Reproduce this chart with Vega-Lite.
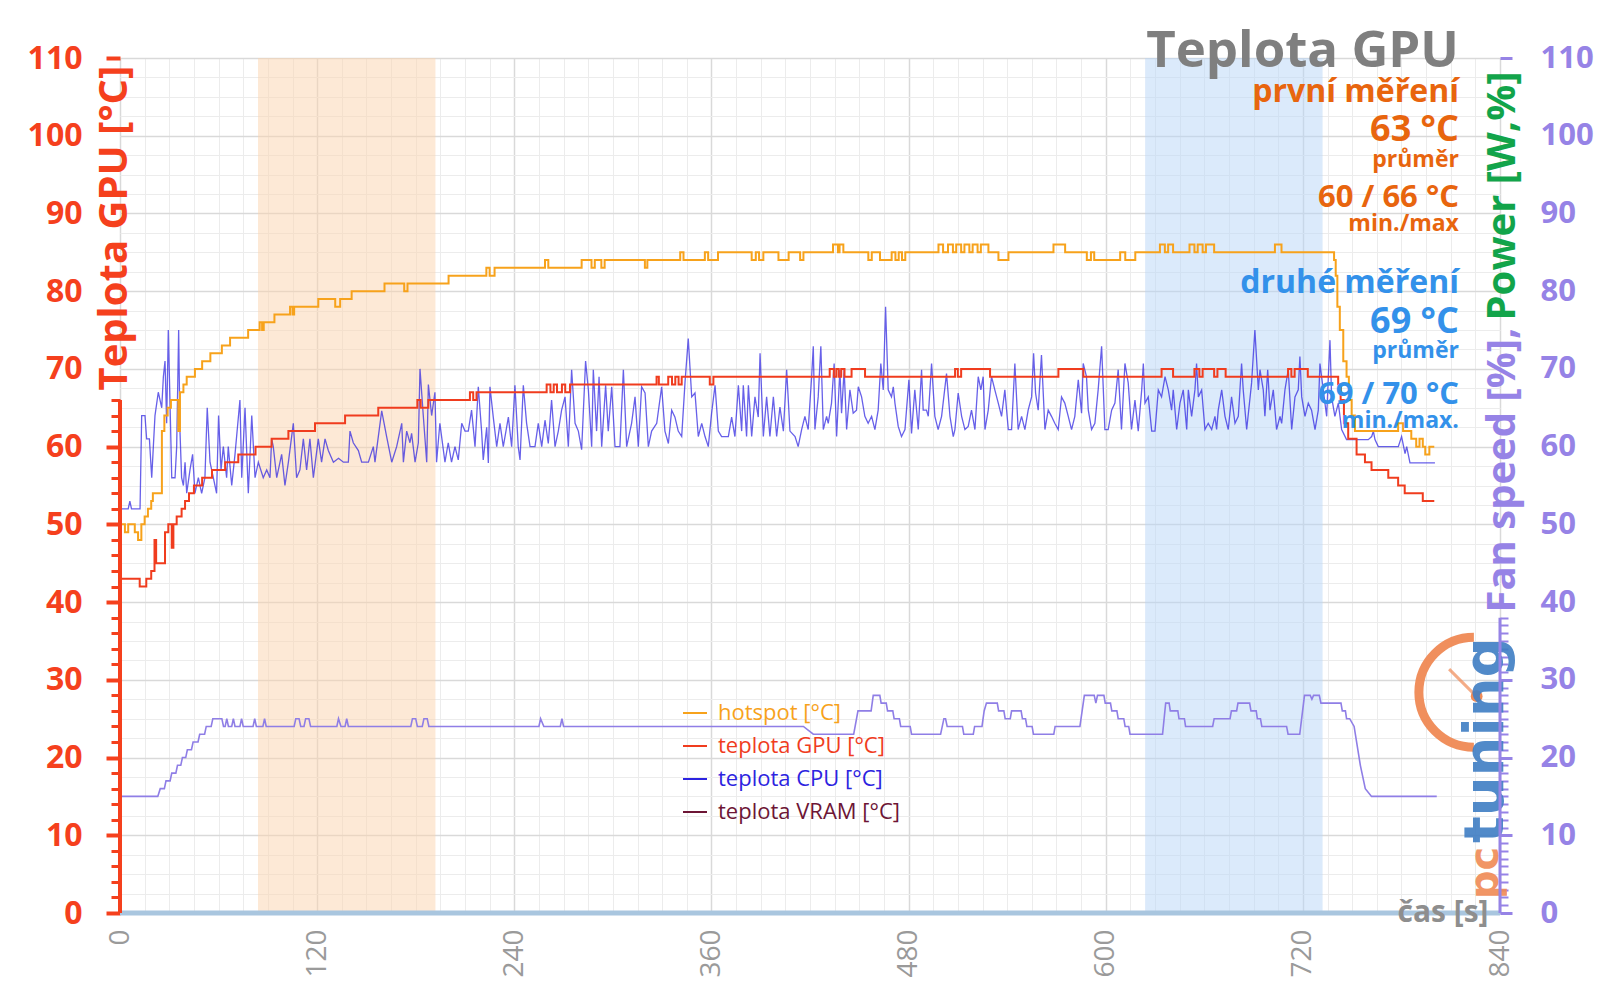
{
"$schema": "https://vega.github.io/schema/vega-lite/v6.json",
"width": 1380,
"height": 855,
"autosize": {"type": "none"},
"padding": {"left": 120, "top": 58, "right": 100, "bottom": 95},
"background": "white",
"config": {"font": "Open Sans", "view": {"stroke": null}, "axis": {"labelFont": "Open Sans", "titleFont": "Open Sans"}, "legend": {"labelFont": "Open Sans"}},
"datasets": {
"hot": [{"t":0,"v":50},{"t":3,"v":49},{"t":5,"v":50},{"t":9,"v":49},{"t":11,"v":48},{"t":13,"v":50},{"t":15,"v":51},{"t":17,"v":52},{"t":19,"v":53},{"t":20,"v":54},{"t":25.5,"v":62},{"t":27,"v":64},{"t":29,"v":65},{"t":31,"v":66},{"t":35.5,"v":62},{"t":36.5,"v":67},{"t":38.6,"v":68},{"t":40.6,"v":69},{"t":45.6,"v":70},{"t":50,"v":71},{"t":55,"v":72},{"t":62,"v":73},{"t":67,"v":74},{"t":78,"v":75},{"t":85,"v":76},{"t":86.5,"v":75},{"t":87.5,"v":76},{"t":94,"v":77},{"t":103.5,"v":78},{"t":105,"v":77},{"t":106,"v":78},{"t":120.7,"v":79},{"t":131,"v":78},{"t":134,"v":79},{"t":141,"v":80},{"t":161,"v":81},{"t":173,"v":80},{"t":175,"v":81},{"t":200,"v":82},{"t":223,"v":83},{"t":225,"v":82},{"t":228,"v":83},{"t":258.7,"v":84},{"t":260.7,"v":83},{"t":281,"v":84},{"t":287,"v":83},{"t":289,"v":84},{"t":293,"v":83},{"t":295,"v":84},{"t":319.5,"v":83},{"t":321,"v":84},{"t":341,"v":85},{"t":343,"v":84},{"t":356,"v":85},{"t":358,"v":84},{"t":364,"v":85},{"t":384.5,"v":84},{"t":387,"v":85},{"t":389,"v":84},{"t":391.6,"v":85},{"t":400.8,"v":84},{"t":407,"v":85},{"t":414,"v":84},{"t":416,"v":85},{"t":434,"v":86},{"t":437,"v":85},{"t":438,"v":86},{"t":440.3,"v":85},{"t":455.5,"v":84},{"t":457.6,"v":85},{"t":462.6,"v":84},{"t":469.7,"v":85},{"t":472,"v":84},{"t":474,"v":85},{"t":476,"v":84},{"t":478,"v":85},{"t":498.2,"v":86},{"t":501,"v":85},{"t":504,"v":86},{"t":507,"v":85},{"t":509,"v":86},{"t":512,"v":85},{"t":514,"v":86},{"t":517,"v":85},{"t":519,"v":86},{"t":522,"v":85},{"t":524,"v":86},{"t":528.6,"v":85},{"t":534.7,"v":84},{"t":540.8,"v":85},{"t":568.2,"v":86},{"t":575.3,"v":85},{"t":588.5,"v":84},{"t":591,"v":85},{"t":593,"v":84},{"t":608.8,"v":85},{"t":611.9,"v":84},{"t":618,"v":85},{"t":633,"v":86},{"t":636,"v":85},{"t":638,"v":86},{"t":641,"v":85},{"t":651,"v":86},{"t":654,"v":85},{"t":656,"v":86},{"t":659,"v":85},{"t":661,"v":86},{"t":666,"v":85},{"t":703,"v":86},{"t":707,"v":85},{"t":739,"v":84},{"t":740,"v":82},{"t":741,"v":78},{"t":742.5,"v":75},{"t":744.6,"v":71},{"t":746.6,"v":69},{"t":748,"v":66},{"t":749.7,"v":64},{"t":751.7,"v":62},{"t":778,"v":63},{"t":781,"v":62},{"t":786,"v":61},{"t":789,"v":60},{"t":791,"v":61},{"t":793,"v":60},{"t":794.5,"v":59},{"t":797,"v":60},{"t":800,"v":60}],
"gpu": [{"t":0,"v":43},{"t":12,"v":42},{"t":16,"v":43},{"t":19,"v":44},{"t":21,"v":48},{"t":22,"v":45},{"t":27.4,"v":49},{"t":29.4,"v":50},{"t":31.5,"v":47},{"t":32.5,"v":50},{"t":34.5,"v":51},{"t":37.5,"v":52},{"t":39.6,"v":53},{"t":42,"v":54},{"t":45,"v":55},{"t":50,"v":56},{"t":56,"v":57},{"t":64,"v":58},{"t":72,"v":59},{"t":82.5,"v":60},{"t":92.3,"v":61},{"t":102.5,"v":62},{"t":118.7,"v":63},{"t":137,"v":64},{"t":157.2,"v":65},{"t":181,"v":66},{"t":183,"v":65},{"t":187.7,"v":66},{"t":213,"v":67},{"t":215,"v":66},{"t":217,"v":67},{"t":259.7,"v":68},{"t":262,"v":67},{"t":264,"v":68},{"t":266,"v":67},{"t":269,"v":68},{"t":271,"v":67},{"t":273.9,"v":68},{"t":326.6,"v":69},{"t":328,"v":68},{"t":333.7,"v":69},{"t":336,"v":68},{"t":338,"v":69},{"t":340,"v":68},{"t":341.9,"v":69},{"t":359,"v":68},{"t":361.2,"v":69},{"t":432,"v":70},{"t":434.5,"v":69},{"t":436,"v":70},{"t":437.5,"v":69},{"t":439,"v":70},{"t":441,"v":69},{"t":445.3,"v":70},{"t":453.5,"v":69},{"t":508.3,"v":70},{"t":510,"v":69},{"t":512,"v":70},{"t":529.6,"v":69},{"t":571.2,"v":70},{"t":586.4,"v":69},{"t":634,"v":70},{"t":641,"v":69},{"t":654,"v":70},{"t":657,"v":69},{"t":659,"v":70},{"t":666,"v":69},{"t":668,"v":70},{"t":673,"v":69},{"t":711,"v":70},{"t":713,"v":69},{"t":715,"v":70},{"t":723,"v":69},{"t":741.5,"v":68},{"t":743,"v":66},{"t":745,"v":63},{"t":747.6,"v":61},{"t":752.7,"v":59},{"t":757.8,"v":58},{"t":761.8,"v":57},{"t":772,"v":56},{"t":778,"v":55},{"t":782,"v":54},{"t":793,"v":53},{"t":800,"v":53}],
"cpu": [{"t":0,"v":52},{"t":5,"v":52},{"t":6,"v":53},{"t":7,"v":52},{"t":12.2,"v":52},{"t":13.2,"v":64},{"t":15.2,"v":64},{"t":16.2,"v":61},{"t":17.9,"v":61},{"t":19.3,"v":56},{"t":20.3,"v":60},{"t":21.3,"v":64},{"t":23.3,"v":67},{"t":25.4,"v":65},{"t":26.4,"v":69},{"t":27.4,"v":71},{"t":28.4,"v":63},{"t":29.4,"v":75},{"t":30.4,"v":66},{"t":31.5,"v":56},{"t":33.5,"v":56},{"t":34.5,"v":60},{"t":35.7,"v":75},{"t":36.5,"v":62},{"t":37.5,"v":56},{"t":38.6,"v":55},{"t":39.6,"v":58},{"t":40.6,"v":54},{"t":42.6,"v":57},{"t":44.2,"v":59},{"t":45.6,"v":54},{"t":47.7,"v":56},{"t":49.7,"v":54},{"t":51.7,"v":56},{"t":53.1,"v":65},{"t":54.8,"v":58},{"t":56.8,"v":56},{"t":58.8,"v":54},{"t":60,"v":64},{"t":61.5,"v":57},{"t":62.9,"v":60},{"t":64.9,"v":56},{"t":65.9,"v":60},{"t":68,"v":55},{"t":70,"v":59},{"t":73,"v":66},{"t":74.1,"v":56},{"t":76.1,"v":65},{"t":78.1,"v":54},{"t":80.2,"v":64},{"t":82.2,"v":56},{"t":84.2,"v":58},{"t":87.2,"v":56},{"t":89.3,"v":57},{"t":91.3,"v":56},{"t":92.3,"v":61},{"t":93.3,"v":60},{"t":95.4,"v":56},{"t":98.4,"v":59},{"t":100.4,"v":55},{"t":102.5,"v":58},{"t":105.5,"v":63},{"t":107.5,"v":56},{"t":109.5,"v":57},{"t":111.6,"v":61},{"t":113.6,"v":57},{"t":115.6,"v":61},{"t":117.7,"v":56},{"t":120.7,"v":61},{"t":122.7,"v":58},{"t":124.8,"v":61},{"t":126.8,"v":59.5},{"t":129.9,"v":58},{"t":133,"v":58.5},{"t":136,"v":58},{"t":139,"v":58},{"t":140,"v":62},{"t":142,"v":60.5},{"t":145.1,"v":59.5},{"t":147.1,"v":58},{"t":151.2,"v":58},{"t":154.2,"v":60},{"t":155.2,"v":58},{"t":159.3,"v":64.6},{"t":162.3,"v":61.3},{"t":165.4,"v":58},{"t":168.4,"v":60},{"t":171.5,"v":63},{"t":172.5,"v":58},{"t":174.5,"v":62},{"t":176.5,"v":60.5},{"t":177.5,"v":61.7},{"t":179.6,"v":58},{"t":181.6,"v":60.5},{"t":182.6,"v":70},{"t":184.6,"v":64},{"t":186.7,"v":58},{"t":187.7,"v":68},{"t":189.7,"v":64},{"t":191.7,"v":67},{"t":192.7,"v":58},{"t":194.7,"v":63},{"t":197.8,"v":58},{"t":199.8,"v":60.5},{"t":201.8,"v":58},{"t":203.9,"v":60},{"t":205.9,"v":58.3},{"t":208,"v":63},{"t":210,"v":62},{"t":212,"v":62},{"t":214,"v":64.7},{"t":216.1,"v":60},{"t":218.1,"v":67.7},{"t":220.1,"v":62},{"t":221.1,"v":58.3},{"t":223.2,"v":62.5},{"t":224.2,"v":57.9},{"t":225.2,"v":67.7},{"t":227.2,"v":63.8},{"t":229.3,"v":60},{"t":231.3,"v":63},{"t":233.3,"v":60},{"t":236.4,"v":63.8},{"t":238.4,"v":60},{"t":240.4,"v":67.9},{"t":242.4,"v":60},{"t":243.5,"v":58.3},{"t":245.5,"v":67.9},{"t":247.5,"v":63},{"t":249.6,"v":60},{"t":252.6,"v":60},{"t":254.6,"v":63},{"t":256.7,"v":60},{"t":258.7,"v":63.4},{"t":260.7,"v":60.4},{"t":262.7,"v":66},{"t":264.8,"v":60},{"t":266.8,"v":62},{"t":268.8,"v":64.7},{"t":270.9,"v":66.4},{"t":272.9,"v":60},{"t":274.9,"v":69.9},{"t":277,"v":63},{"t":279,"v":62},{"t":281,"v":59.6},{"t":283.4,"v":71},{"t":285.1,"v":67.3},{"t":287.1,"v":60},{"t":288.1,"v":69.9},{"t":290.1,"v":62},{"t":291.6,"v":69},{"t":293.2,"v":60},{"t":295.6,"v":67.9},{"t":297.2,"v":62},{"t":299.3,"v":67.7},{"t":301.3,"v":60},{"t":304.3,"v":60},{"t":306.4,"v":69.9},{"t":308.4,"v":60},{"t":311.4,"v":63},{"t":313.5,"v":66.4},{"t":315.5,"v":60},{"t":317.5,"v":67.7},{"t":319.6,"v":66.9},{"t":321.6,"v":60},{"t":323.6,"v":62},{"t":326.7,"v":63},{"t":329.7,"v":67.7},{"t":331.7,"v":62},{"t":333.8,"v":60.4},{"t":335.8,"v":64.7},{"t":337.8,"v":63.8},{"t":339.8,"v":62},{"t":341.9,"v":61.3},{"t":343.9,"v":68.2},{"t":345.9,"v":73.9},{"t":348,"v":66.4},{"t":350,"v":66.9},{"t":352,"v":61.3},{"t":354.1,"v":63},{"t":356.1,"v":61.3},{"t":358.1,"v":60},{"t":360.1,"v":64.3},{"t":362.2,"v":67.9},{"t":364.2,"v":62},{"t":366.2,"v":61.3},{"t":370.3,"v":61.3},{"t":372.3,"v":63.8},{"t":374.3,"v":61.3},{"t":376.4,"v":67.9},{"t":378.4,"v":62},{"t":379.4,"v":67.9},{"t":381.4,"v":61.3},{"t":382.5,"v":67.9},{"t":384.5,"v":61.3},{"t":386.5,"v":66.4},{"t":388.5,"v":63.8},{"t":389.6,"v":72},{"t":391.6,"v":61.3},{"t":393.6,"v":66.4},{"t":395.6,"v":61.3},{"t":397.7,"v":66.4},{"t":399.7,"v":61.3},{"t":401.7,"v":65.1},{"t":403.8,"v":62},{"t":405.8,"v":69.9},{"t":407.8,"v":62},{"t":410.9,"v":61.3},{"t":412.8,"v":60},{"t":414.9,"v":62.2},{"t":416.9,"v":63.9},{"t":418.9,"v":62.2},{"t":421,"v":69},{"t":422,"v":72.9},{"t":423,"v":62.2},{"t":425,"v":66.4},{"t":426.6,"v":72.9},{"t":428.1,"v":62.2},{"t":430.1,"v":63.9},{"t":431.1,"v":63},{"t":433.1,"v":65.6},{"t":434.7,"v":70.7},{"t":436.2,"v":61.3},{"t":438.2,"v":69.9},{"t":439.2,"v":64.3},{"t":440.8,"v":69.9},{"t":442.3,"v":62.2},{"t":444.3,"v":67.3},{"t":446.3,"v":64.3},{"t":448.3,"v":64.7},{"t":449.4,"v":67.7},{"t":451.4,"v":66.4},{"t":453.4,"v":63.9},{"t":455.4,"v":63},{"t":457.5,"v":63.9},{"t":459.5,"v":62.2},{"t":461.5,"v":64.7},{"t":463.1,"v":70.7},{"t":464.6,"v":67.3},{"t":466,"v":78},{"t":467.6,"v":67.3},{"t":469.6,"v":66.4},{"t":470.7,"v":67.7},{"t":471.7,"v":65.6},{"t":473.7,"v":62.6},{"t":475.7,"v":61.3},{"t":477.8,"v":62.2},{"t":480.2,"v":68.6},{"t":481.8,"v":61.7},{"t":483.8,"v":67.3},{"t":485.9,"v":62.2},{"t":487.9,"v":69.9},{"t":488.9,"v":64.7},{"t":490.9,"v":64.7},{"t":492,"v":63.9},{"t":494,"v":70.7},{"t":496,"v":63.9},{"t":498,"v":62.2},{"t":500.1,"v":63.9},{"t":503.1,"v":69.4},{"t":505.2,"v":63.9},{"t":507.2,"v":61.3},{"t":508.2,"v":62.2},{"t":510.2,"v":66.9},{"t":512.3,"v":63.9},{"t":514.3,"v":62.2},{"t":516.3,"v":62.6},{"t":518.3,"v":64.7},{"t":520.4,"v":62.2},{"t":522.4,"v":69},{"t":524,"v":67.3},{"t":525.4,"v":69},{"t":526.5,"v":62.2},{"t":528.5,"v":64.7},{"t":530.5,"v":69},{"t":532.5,"v":67.3},{"t":534.6,"v":65.6},{"t":536.6,"v":63.9},{"t":538.6,"v":67.3},{"t":540.7,"v":62.2},{"t":542.7,"v":62.2},{"t":544.7,"v":70.7},{"t":546.7,"v":62.2},{"t":548.8,"v":63.9},{"t":550.8,"v":62.2},{"t":552.8,"v":64.7},{"t":554.9,"v":66.4},{"t":556.1,"v":72},{"t":557.3,"v":66.9},{"t":558.9,"v":64.7},{"t":560.9,"v":71.8},{"t":563,"v":62.2},{"t":565,"v":64.7},{"t":567,"v":63.9},{"t":569,"v":63},{"t":571.1,"v":62.2},{"t":573.1,"v":66.4},{"t":575.1,"v":65.6},{"t":577.2,"v":63.9},{"t":579.2,"v":62.2},{"t":581.2,"v":63.9},{"t":583.3,"v":68.6},{"t":585.3,"v":64.3},{"t":586.3,"v":70.7},{"t":588.3,"v":69},{"t":589.4,"v":64.7},{"t":591.4,"v":62.2},{"t":593.4,"v":63},{"t":595.4,"v":67.3},{"t":597.5,"v":72.9},{"t":599.5,"v":62.2},{"t":601.5,"v":62.2},{"t":603.6,"v":64.7},{"t":605.6,"v":65.6},{"t":607.6,"v":69.9},{"t":609.6,"v":62.2},{"t":611.7,"v":70.7},{"t":613.7,"v":68.2},{"t":615.7,"v":62.2},{"t":617.8,"v":66},{"t":619.8,"v":62},{"t":621.9,"v":67.3},{"t":622.9,"v":70.7},{"t":623.9,"v":65.6},{"t":625.9,"v":66.4},{"t":628,"v":62},{"t":630,"v":62},{"t":632,"v":67.3},{"t":634,"v":66.4},{"t":636.1,"v":69},{"t":638.1,"v":67.3},{"t":640.1,"v":64.7},{"t":641.1,"v":67.3},{"t":643.2,"v":62.2},{"t":645.2,"v":65.6},{"t":647.2,"v":67.3},{"t":649.3,"v":62.2},{"t":650.3,"v":67.3},{"t":652.3,"v":63.9},{"t":654.3,"v":67.3},{"t":655.3,"v":70.7},{"t":656.4,"v":66.4},{"t":658.4,"v":67.3},{"t":660.4,"v":62.2},{"t":662.4,"v":63},{"t":664.5,"v":62.2},{"t":666.5,"v":63.9},{"t":667.5,"v":62.2},{"t":668.5,"v":64.7},{"t":670.6,"v":67.3},{"t":672.6,"v":63.9},{"t":674.6,"v":62.2},{"t":676.6,"v":66.4},{"t":678.7,"v":63},{"t":680.7,"v":63.9},{"t":682.7,"v":70.7},{"t":683.7,"v":67.3},{"t":685.8,"v":62.2},{"t":688.8,"v":68.2},{"t":690.8,"v":75},{"t":692.9,"v":67.3},{"t":693.9,"v":69.9},{"t":695.9,"v":67.3},{"t":696.9,"v":63.9},{"t":698.6,"v":69.9},{"t":700,"v":64.7},{"t":702,"v":67.3},{"t":704,"v":62.2},{"t":706.1,"v":63.9},{"t":707.1,"v":63},{"t":709.1,"v":67.3},{"t":711.1,"v":69.9},{"t":713.2,"v":62.2},{"t":715.2,"v":66.4},{"t":717.2,"v":67.3},{"t":718.2,"v":71.6},{"t":719.3,"v":66.4},{"t":721.3,"v":63.9},{"t":723.3,"v":65.6},{"t":725.3,"v":64.7},{"t":727.4,"v":62.2},{"t":729.4,"v":64.7},{"t":730.4,"v":70.7},{"t":732.4,"v":67.3},{"t":734.5,"v":63.9},{"t":735.5,"v":69},{"t":736.5,"v":73.7},{"t":737.5,"v":66.4},{"t":739.5,"v":63.9},{"t":741.6,"v":65.6},{"t":743.6,"v":62.2},{"t":746.6,"v":60.9},{"t":759.8,"v":60.9},{"t":761.9,"v":61.3},{"t":762.9,"v":62},{"t":763.9,"v":60.9},{"t":765.9,"v":60},{"t":778.1,"v":60},{"t":780.1,"v":61.3},{"t":782.2,"v":59.1},{"t":783.2,"v":60},{"t":785.2,"v":57.9},{"t":800.4,"v":57.9}],
"fan": [{"t":0,"v":15},{"t":23,"v":15},{"t":24.5,"v":16},{"t":27,"v":16},{"t":28,"v":17},{"t":30.5,"v":17},{"t":31.5,"v":18},{"t":34,"v":18},{"t":35,"v":19},{"t":37,"v":19},{"t":38,"v":20},{"t":40,"v":20},{"t":41,"v":21},{"t":43.5,"v":21},{"t":44.5,"v":22},{"t":47.5,"v":22},{"t":48.5,"v":23},{"t":51.5,"v":23},{"t":52.5,"v":24},{"t":55.5,"v":24},{"t":56.5,"v":25},{"t":62,"v":25},{"t":63,"v":24},{"t":64,"v":24},{"t":65,"v":25},{"t":66,"v":24},{"t":68,"v":24},{"t":69,"v":25},{"t":70,"v":24},{"t":73,"v":24},{"t":74,"v":25},{"t":75,"v":24},{"t":81,"v":24},{"t":82,"v":25},{"t":83,"v":24},{"t":87,"v":24},{"t":88,"v":25},{"t":89,"v":24},{"t":106,"v":24},{"t":107,"v":25},{"t":109,"v":25},{"t":110,"v":24},{"t":112,"v":24},{"t":113,"v":25},{"t":115,"v":25},{"t":116,"v":24},{"t":132,"v":24},{"t":133,"v":25},{"t":134.5,"v":24},{"t":137,"v":24},{"t":138,"v":25},{"t":139,"v":24},{"t":177,"v":24},{"t":178,"v":25},{"t":180,"v":25},{"t":181,"v":24},{"t":184,"v":24},{"t":185,"v":25},{"t":187,"v":25},{"t":188,"v":24},{"t":255,"v":24},{"t":256,"v":25},{"t":258,"v":24},{"t":268,"v":24},{"t":269,"v":25},{"t":270,"v":24},{"t":416,"v":24},{"t":422,"v":23},{"t":446.6,"v":23},{"t":449.2,"v":26},{"t":457.2,"v":26},{"t":458.5,"v":28},{"t":462.5,"v":28},{"t":463.3,"v":27},{"t":466.4,"v":27},{"t":467.2,"v":26},{"t":470.4,"v":26},{"t":471.2,"v":25},{"t":474.4,"v":25},{"t":475.2,"v":24},{"t":481,"v":24},{"t":481.8,"v":23},{"t":499.5,"v":23},{"t":501.5,"v":25},{"t":502.5,"v":25},{"t":503.5,"v":24},{"t":512.8,"v":24},{"t":513.6,"v":23},{"t":519.4,"v":23},{"t":520.2,"v":24},{"t":524.7,"v":24},{"t":526,"v":26},{"t":527.4,"v":27},{"t":534,"v":27},{"t":534.8,"v":26},{"t":538,"v":26},{"t":538.8,"v":25},{"t":541.9,"v":25},{"t":542.7,"v":26},{"t":548.5,"v":26},{"t":549.3,"v":25},{"t":551.2,"v":25},{"t":552,"v":24},{"t":555.2,"v":24},{"t":556,"v":23},{"t":568.4,"v":23},{"t":569.2,"v":24},{"t":584.3,"v":24},{"t":587,"v":28},{"t":593,"v":28},{"t":594,"v":27},{"t":595,"v":28},{"t":598.9,"v":28},{"t":599.7,"v":27},{"t":602.9,"v":27},{"t":603.7,"v":26},{"t":606.8,"v":26},{"t":607.6,"v":25},{"t":611,"v":25},{"t":611.8,"v":24},{"t":614,"v":24},{"t":614.8,"v":23},{"t":634.6,"v":23},{"t":636.5,"v":27},{"t":638.6,"v":27},{"t":639.3,"v":26},{"t":643.9,"v":26},{"t":644.6,"v":25},{"t":647.9,"v":25},{"t":648.6,"v":24},{"t":665.1,"v":24},{"t":666,"v":25},{"t":675.7,"v":25},{"t":676.5,"v":26},{"t":679.7,"v":26},{"t":680.5,"v":27},{"t":687.6,"v":27},{"t":688.4,"v":26},{"t":691.6,"v":26},{"t":692.3,"v":25},{"t":694.2,"v":25},{"t":695,"v":24},{"t":710.1,"v":24},{"t":711,"v":23},{"t":718.1,"v":23},{"t":721,"v":28},{"t":724.5,"v":28},{"t":725.5,"v":27.5},{"t":726.5,"v":28},{"t":730,"v":28},{"t":731,"v":27},{"t":743.2,"v":27},{"t":744,"v":26},{"t":745.9,"v":26},{"t":746.6,"v":25},{"t":748.5,"v":25},{"t":751.2,"v":24},{"t":755,"v":19},{"t":758,"v":16},{"t":761.8,"v":15},{"t":801.5,"v":15}],
"notes": [{"t":815,"v":108.9,"label":"Teplota GPU","kind":"title","grp":"title"},{"t":815,"v":104.3,"label":"první měření","kind":"head","grp":"first"},{"t":815,"v":99.3,"label":"63 °C","kind":"val","grp":"first"},{"t":815,"v":96.0,"label":"průměr","kind":"note","grp":"first"},{"t":815,"v":90.8,"label":"60 / 66 °C","kind":"range","grp":"first"},{"t":815,"v":87.8,"label":"min./max","kind":"note","grp":"first"},{"t":815,"v":79.8,"label":"druhé měření","kind":"head","grp":"second"},{"t":815,"v":74.6,"label":"69 °C","kind":"val","grp":"second"},{"t":815,"v":71.4,"label":"průměr","kind":"note","grp":"second"},{"t":815,"v":65.5,"label":"69 / 70 °C","kind":"range","grp":"second"},{"t":815,"v":62.4,"label":"min./max.","kind":"note","grp":"second"}]
},
"layer": [
{"data": {"values": [{"a": 84, "b": 192}]},
 "mark": {"type": "rect", "fill": "#fbd3ae", "opacity": 0.5},
 "encoding": {
  "x": {"field": "a", "type": "quantitative", "scale": {"domain": [0, 840], "nice": false, "zero": false},
        "axis": {"orient": "bottom", "values": [0,15,30,45,60,75,90,105,120,135,150,165,180,195,210,225,240,255,270,285,300,315,330,345,360,375,390,405,420,435,450,465,480,495,510,525,540,555,570,585,600,615,630,645,660,675,690,705,720,735,750,765,780,795,810,825,840], "grid": true, "gridColor": "#ececec", "gridWidth": 1, "domain": false, "ticks": false, "labels": false, "title": null}},
  "x2": {"field": "b"},
  "y": {"datum": 0, "type": "quantitative", "scale": {"domain": [0, 110], "nice": false, "zero": false},
        "axis": {"orient": "left", "values": [0,2.5,5,7.5,10,12.5,15,17.5,20,22.5,25,27.5,30,32.5,35,37.5,40,42.5,45,47.5,50,52.5,55,57.5,60,62.5,65,67.5,70,72.5,75,77.5,80,82.5,85,87.5,90,92.5,95,97.5,100,102.5,105,107.5,110], "grid": true, "gridColor": "#ececec", "gridWidth": 1, "domain": false, "ticks": false, "labels": false, "title": null}},
  "y2": {"datum": 110}
 }},
{"data": {"values": [{"a": 624, "b": 732}]},
 "mark": {"type": "rect", "fill": "#b8d6f8", "opacity": 0.5},
 "encoding": {
  "x": {"field": "a", "type": "quantitative", "scale": {"domain": [0, 840], "nice": false, "zero": false}, "axis": null},
  "x2": {"field": "b"},
  "y": {"datum": 0, "type": "quantitative", "scale": {"domain": [0, 110], "nice": false, "zero": false}, "axis": null},
  "y2": {"datum": 110}
 }},
{"data": {"name": "fan"},
 "mark": {"type": "line", "color": "#8f7ee6", "strokeWidth": 1.6},
 "encoding": {
  "x": {"field": "t", "type": "quantitative", "scale": {"domain": [0, 840], "nice": false, "zero": false}, "axis": null},
  "y": {"field": "v", "type": "quantitative", "scale": {"domain": [0, 110], "nice": false, "zero": false},
        "axis": {"orient": "right", "values": [0,10,20,30,40,50,60,70,80,90,100,110], "grid": false, "domain": false, "tickColor": "#9683e6", "tickSize": 12, "tickWidth": 3,
                 "tickOpacity": {"condition": {"test": "datum.value > 38 && datum.value < 110", "value": 0}, "value": 1},
                 "labelColor": "#9683e6", "labelFontSize": 31, "labelFontWeight": "bold", "labelPadding": 28,
                 "title": "Fan speed [%],", "titleColor": "#9683e6", "titleFontSize": 40, "titleFontWeight": "bold", "titleAngle": 270, "titleAlign": "left", "titleBaseline": "middle", "titleX": 2, "titleY": 554}}
 }},
{"data": {"name": "cpu"},
 "mark": {"type": "line", "strokeWidth": 1.3, "opacity": 0.72},
 "encoding": {
  "x": {"field": "t", "type": "quantitative", "scale": {"domain": [0, 840], "nice": false, "zero": false}, "axis": null},
  "y": {"field": "v", "type": "quantitative", "scale": {"domain": [0, 110], "nice": false, "zero": false}, "axis": null},
  "color": {"datum": "teplota CPU [°C]", "type": "nominal",
            "scale": {"domain": ["hotspot [°C]", "teplota GPU [°C]", "teplota CPU [°C]", "teplota VRAM [°C]"], "range": ["#f7a21b", "#f03c1e", "#2c23e0", "#6d1535"]},
            "legend": {"title": null, "orient": "none", "legendX": 562, "legendY": 642, "padding": 0, "labelFontSize": 22, "labelLimit": 0, "symbolType": "stroke", "symbolSize": 576, "symbolStrokeWidth": 2, "symbolOpacity": 1, "rowPadding": 9, "labelOffset": 10, "encode": {"labels": {"update": {"fill": {"scale": "color", "field": "value"}}}}}}
 }},
{"data": {"name": "gpu"},
 "mark": {"type": "line", "interpolate": "step-after", "strokeWidth": 2},
 "encoding": {
  "x": {"field": "t", "type": "quantitative", "scale": {"domain": [0, 840], "nice": false, "zero": false}, "axis": null},
  "y": {"field": "v", "type": "quantitative", "scale": {"domain": [0, 110], "nice": false, "zero": false}, "axis": null},
  "color": {"datum": "teplota GPU [°C]", "type": "nominal",
            "scale": {"domain": ["hotspot [°C]", "teplota GPU [°C]", "teplota CPU [°C]", "teplota VRAM [°C]"], "range": ["#f7a21b", "#f03c1e", "#2c23e0", "#6d1535"]}}
 }},
{"data": {"name": "hot"},
 "mark": {"type": "line", "interpolate": "step-after", "strokeWidth": 2},
 "encoding": {
  "x": {"field": "t", "type": "quantitative", "scale": {"domain": [0, 840], "nice": false, "zero": false},
        "axis": {"orient": "bottom", "values": [0,120,240,360,480,600,720,840], "grid": true, "gridColor": "#d9d9d9", "gridWidth": 1.5, "domain": false, "ticks": false, "labelColor": "#9a9a9a", "labelFontSize": 28, "labelAngle": 270, "labelPadding": 16, "labelFlush": false, "title": null}},
  "y": {"field": "v", "type": "quantitative", "scale": {"domain": [0, 110], "nice": false, "zero": false},
        "axis": {"orient": "left", "values": [0,10,20,30,40,50,60,70,80,90,100,110], "grid": true, "gridColor": "#d9d9d9", "gridWidth": 1.5, "domain": false, "tickColor": "#f5401d", "tickSize": 14, "tickWidth": 4,
                 "tickOpacity": {"condition": {"test": "datum.value > 66 && datum.value < 110", "value": 0}, "value": 1},
                 "labelColor": "#f5401d", "labelFontSize": 32, "labelFontWeight": "bold", "labelPadding": 24,
                 "title": "Teplota GPU [°C]", "titleColor": "#f5401d", "titleFontSize": 40, "titleFontWeight": "bold", "titleAngle": 270, "titleAlign": "left", "titleBaseline": "middle", "titleX": -6, "titleY": 332}},
  "color": {"datum": "hotspot [°C]", "type": "nominal",
            "scale": {"domain": ["hotspot [°C]", "teplota GPU [°C]", "teplota CPU [°C]", "teplota VRAM [°C]"], "range": ["#f7a21b", "#f03c1e", "#2c23e0", "#6d1535"]}}
 }},
{"data": {"values": [{"t": 824.1, "v": 28.4}]},
 "mark": {"type": "point", "shape": "M0,-1 A1,1 0 0 0 0,1", "filled": false, "stroke": "#f08a55", "strokeWidth": 9, "size": 12100, "opacity": 0.95},
 "encoding": {
  "x": {"field": "t", "type": "quantitative", "scale": {"domain": [0, 840], "nice": false, "zero": false}, "axis": null},
  "y": {"field": "v", "type": "quantitative", "scale": {"domain": [0, 110], "nice": false, "zero": false}, "axis": null}
 }},
{"data": {"values": [{"t": 824.1, "v": 28.4}]},
 "mark": {"type": "point", "shape": "M-0.45,-0.42 L0.05,0.08", "filled": false, "stroke": "#f08a55", "strokeWidth": 3, "size": 12100},
 "encoding": {
  "x": {"field": "t", "type": "quantitative", "scale": {"domain": [0, 840], "nice": false, "zero": false}, "axis": null},
  "y": {"field": "v", "type": "quantitative", "scale": {"domain": [0, 110], "nice": false, "zero": false}, "axis": null}
 }},
{"data": {"values": [{"t": 825.8, "v": 27.9}]},
 "mark": {"type": "point", "shape": "circle", "filled": true, "color": "#f08a55", "size": 140, "opacity": 1},
 "encoding": {
  "x": {"field": "t", "type": "quantitative", "scale": {"domain": [0, 840], "nice": false, "zero": false}, "axis": null},
  "y": {"field": "v", "type": "quantitative", "scale": {"domain": [0, 110], "nice": false, "zero": false}, "axis": null}
 }},
{"data": {"values": [{"t": 831.4, "v": 1.8, "label": "pc"}]},
 "mark": {"type": "text", "angle": 270, "align": "left", "baseline": "middle", "font": "DejaVu Sans", "fontWeight": "bold", "fontSize": 40, "color": "#f08a55", "opacity": 0.9},
 "encoding": {
  "x": {"field": "t", "type": "quantitative", "scale": {"domain": [0, 840], "nice": false, "zero": false}, "axis": null},
  "y": {"field": "v", "type": "quantitative", "scale": {"domain": [0, 110], "nice": false, "zero": false}, "axis": null},
  "text": {"field": "label"}
 }},
{"data": {"values": [{"t": 831.4, "v": 9, "label": "tuning"}]},
 "mark": {"type": "text", "angle": 270, "align": "left", "baseline": "middle", "font": "DejaVu Sans", "fontWeight": "bold", "fontSize": 56, "color": "#3f7ec4", "opacity": 0.9},
 "encoding": {
  "x": {"field": "t", "type": "quantitative", "scale": {"domain": [0, 840], "nice": false, "zero": false}, "axis": null},
  "y": {"field": "v", "type": "quantitative", "scale": {"domain": [0, 110], "nice": false, "zero": false}, "axis": null},
  "text": {"field": "label"}
 }},
{"data": {"values": [{"a": 0, "b": 840, "y": 0}]},
 "mark": {"type": "rule", "color": "#a9c6df", "strokeWidth": 5},
 "encoding": {
  "x": {"field": "a", "type": "quantitative", "scale": {"domain": [0, 840], "nice": false, "zero": false}, "axis": null},
  "x2": {"field": "b"},
  "y": {"field": "y", "type": "quantitative", "scale": {"domain": [0, 110], "nice": false, "zero": false}, "axis": null}
 }},
{"data": {"values": [{"x": 0, "a": 0, "b": 66}]},
 "mark": {"type": "rule", "color": "#f5401d", "strokeWidth": 4},
 "encoding": {
  "x": {"field": "x", "type": "quantitative", "scale": {"domain": [0, 840], "nice": false, "zero": false}, "axis": null},
  "y": {"field": "a", "type": "quantitative", "scale": {"domain": [0, 110], "nice": false, "zero": false},
        "axis": {"orient": "left", "values": [0,2,4,6,8,10,12,14,16,18,20,22,24,26,28,30,32,34,36,38,40,42,44,46,48,50,52,54,56,58,60,62,64,66], "grid": false, "domain": false, "tickColor": "#f5401d", "tickSize": 9, "tickWidth": 3, "labels": false, "title": null}},
  "y2": {"field": "b"}
 }},
{"data": {"values": [{"x": 840, "a": 0, "b": 38}]},
 "mark": {"type": "rule", "color": "#9683e6", "strokeWidth": 3},
 "encoding": {
  "x": {"field": "x", "type": "quantitative", "scale": {"domain": [0, 840], "nice": false, "zero": false}, "axis": null},
  "y": {"field": "a", "type": "quantitative", "scale": {"domain": [0, 110], "nice": false, "zero": false},
        "axis": {"orient": "right", "values": [0,1,2,3,4,5,6,7,8,9,10,11,12,13,14,15,16,17,18,19,20,21,22,23,24,25,26,27,28,29,30,31,32,33,34,35,36,37,38], "grid": false, "domain": false, "tickColor": "#9683e6", "tickSize": 8, "tickWidth": 2, "labels": false,
                 "title": "Power [W,%]", "titleColor": "#12a44a", "titleFontSize": 40, "titleFontWeight": "bold", "titleAngle": 270, "titleAlign": "left", "titleBaseline": "middle", "titleX": 2, "titleY": 262}},
  "y2": {"field": "b"}
 }},
{"data": {"values": [{"t": 833, "v": 0, "label": "čas [s]"}]},
 "mark": {"type": "text", "align": "right", "baseline": "middle", "fontSize": 30, "fontWeight": "bold", "fill": "#8e8e8e"},
 "encoding": {
  "x": {"field": "t", "type": "quantitative", "scale": {"domain": [0, 840], "nice": false, "zero": false}, "axis": null},
  "y": {"field": "v", "type": "quantitative", "scale": {"domain": [0, 110], "nice": false, "zero": false}, "axis": null},
  "text": {"field": "label"}
 }},
{"data": {"name": "notes"},
 "mark": {"type": "text", "align": "right", "baseline": "alphabetic", "fontWeight": "bold"},
 "encoding": {
  "x": {"field": "t", "type": "quantitative", "scale": {"domain": [0, 840], "nice": false, "zero": false}, "axis": null},
  "y": {"field": "v", "type": "quantitative", "scale": {"domain": [0, 110], "nice": false, "zero": false}, "axis": null},
  "text": {"field": "label"},
  "size": {"field": "kind", "type": "ordinal", "scale": {"type": "ordinal", "domain": ["title", "head", "val", "range", "note"], "range": [51, 32, 36, 31, 23]}, "legend": null},
  "fill": {"field": "grp", "type": "nominal", "scale": {"domain": ["title", "first", "second"], "range": ["#7f7f7f", "#e8650e", "#3391ea"]}, "legend": null}
 }}
],
"resolve": {"axis": {"x": "independent", "y": "independent"}}
}
